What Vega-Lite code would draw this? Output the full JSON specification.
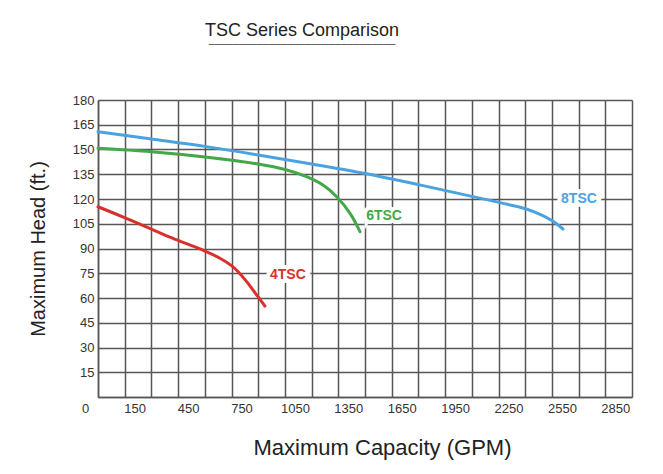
{
  "$schema": "https://vega.github.io/schema/vega-lite/v6.json",
  "autosize": {"type": "none"},
  "padding": {"left": 98, "top": 100, "right": 31, "bottom": 77},
  "width": 534,
  "height": 297,
  "background": "#ffffff",
  "title": {
    "text": "TSC Series Comparison",
    "subtitle": "───────────────────────────────",
    "font": "Liberation Sans",
    "fontSize": 18,
    "fontWeight": "normal",
    "color": "#222222",
    "subtitleFont": "DejaVu Sans",
    "subtitleFontSize": 10,
    "subtitleColor": "#555555",
    "subtitlePadding": 0,
    "anchor": "middle",
    "dx": -63,
    "offset": 44
  },
  "config": {
    "view": {"stroke": null, "fill": "#ffffff"}
  },
  "datasets": {
    "curves": [
      {"series": "4TSC", "gpm": 0, "head": 115.3},
      {"series": "4TSC", "gpm": 152, "head": 108.6},
      {"series": "4TSC", "gpm": 300, "head": 101.8},
      {"series": "4TSC", "gpm": 404, "head": 96.9},
      {"series": "4TSC", "gpm": 498, "head": 92.9},
      {"series": "4TSC", "gpm": 592, "head": 88.9},
      {"series": "4TSC", "gpm": 685, "head": 84.1},
      {"series": "4TSC", "gpm": 750, "head": 79.6},
      {"series": "4TSC", "gpm": 790, "head": 75.6},
      {"series": "4TSC", "gpm": 835, "head": 69.9},
      {"series": "4TSC", "gpm": 892, "head": 61.8},
      {"series": "4TSC", "gpm": 938, "head": 55.1},
      {"series": "6TSC", "gpm": 0, "head": 150.7},
      {"series": "6TSC", "gpm": 300, "head": 148.6},
      {"series": "6TSC", "gpm": 601, "head": 145.4},
      {"series": "6TSC", "gpm": 899, "head": 141.2},
      {"series": "6TSC", "gpm": 1051, "head": 137.9},
      {"series": "6TSC", "gpm": 1172, "head": 133.5},
      {"series": "6TSC", "gpm": 1266, "head": 128.3},
      {"series": "6TSC", "gpm": 1341, "head": 121.4},
      {"series": "6TSC", "gpm": 1416, "head": 111.3},
      {"series": "6TSC", "gpm": 1472, "head": 100.2},
      {"series": "8TSC", "gpm": 0, "head": 160.8},
      {"series": "8TSC", "gpm": 300, "head": 156.4},
      {"series": "8TSC", "gpm": 600, "head": 151.9},
      {"series": "8TSC", "gpm": 900, "head": 146.7},
      {"series": "8TSC", "gpm": 1200, "head": 141.2},
      {"series": "8TSC", "gpm": 1500, "head": 135.4},
      {"series": "8TSC", "gpm": 1800, "head": 128.7},
      {"series": "8TSC", "gpm": 2100, "head": 121.6},
      {"series": "8TSC", "gpm": 2300, "head": 116.8},
      {"series": "8TSC", "gpm": 2410, "head": 113.8},
      {"series": "8TSC", "gpm": 2490, "head": 110.4},
      {"series": "8TSC", "gpm": 2550, "head": 106.9},
      {"series": "8TSC", "gpm": 2612, "head": 101.8}
    ],
    "labels": [
      {"series": "4TSC", "gpm": 1067, "head": 73.9},
      {"series": "6TSC", "gpm": 1607, "head": 109.7},
      {"series": "8TSC", "gpm": 2702, "head": 120.0}
    ]
  },
  "encoding": {
    "x": {
      "field": "gpm",
      "type": "quantitative",
      "scale": {"domain": [0, 3000], "nice": false, "zero": true},
      "axis": {
        "title": "Maximum Capacity (GPM)",
        "values": [0,150,300,450,600,750,900,1050,1200,1350,1500,1650,1800,1950,2100,2250,2400,2550,2700,2850,3000],
        "format": "d",
        "labelExpr": "(datum.value == 0 || (datum.value / 150) % 2 == 1) ? datum.label : ''",
        "labelOverlap": false,
        "labelFlush": false,
        "labelOffset": {"condition": {"test": "datum.value == 0", "value": -13}, "value": 10},
        "labelPadding": 5,
        "labelFont": "Liberation Sans",
        "labelFontSize": 13,
        "labelColor": "#333333",
        "ticks": false,
        "grid": true,
        "gridColor": "#5a5656",
        "gridWidth": 1.5,
        "gridOpacity": 1,
        "domainColor": "#5a5656",
        "domainWidth": 1.5,
        "titleFont": "Liberation Sans",
        "titleFontSize": 22,
        "titleFontWeight": "normal",
        "titleColor": "#222222",
        "titlePadding": 22,
        "titleX": 284
      }
    },
    "y": {
      "field": "head",
      "type": "quantitative",
      "scale": {"domain": [0, 180], "nice": false},
      "axis": {
        "title": "Maximum Head (ft.)",
        "values": [0,15,30,45,60,75,90,105,120,135,150,165,180],
        "labelExpr": "datum.value == 0 ? '' : datum.label",
        "labelOverlap": false,
        "labelFlush": false,
        "labelPadding": 4,
        "labelFont": "Liberation Sans",
        "labelFontSize": 13,
        "labelColor": "#333333",
        "ticks": false,
        "grid": true,
        "gridColor": "#5a5656",
        "gridWidth": 1.5,
        "gridOpacity": 1,
        "domainColor": "#5a5656",
        "domainWidth": 1.5,
        "titleFont": "Liberation Sans",
        "titleFontSize": 20,
        "titleFontWeight": "normal",
        "titleColor": "#222222",
        "titlePadding": 24
      }
    },
    "color": {
      "field": "series",
      "type": "nominal",
      "scale": {"domain": ["4TSC", "6TSC", "8TSC"], "range": ["#d9302b", "#43a847", "#4aa3df"]},
      "legend": null
    }
  },
  "layer": [
    {
      "data": {"name": "curves"},
      "mark": {"type": "line", "interpolate": "catmull-rom", "strokeWidth": 3, "strokeCap": "round"}
    },
    {
      "data": {"name": "labels"},
      "mark": {"type": "text", "font": "Liberation Sans", "fontSize": 14, "fontWeight": "bold", "stroke": "#ffffff", "strokeWidth": 8, "strokeJoin": "miter"},
      "encoding": {"text": {"field": "series"}, "color": {"value": "#ffffff"}}
    },
    {
      "data": {"name": "labels"},
      "mark": {"type": "text", "font": "Liberation Sans", "fontSize": 14, "fontWeight": "bold"},
      "encoding": {"text": {"field": "series"}}
    }
  ]
}
